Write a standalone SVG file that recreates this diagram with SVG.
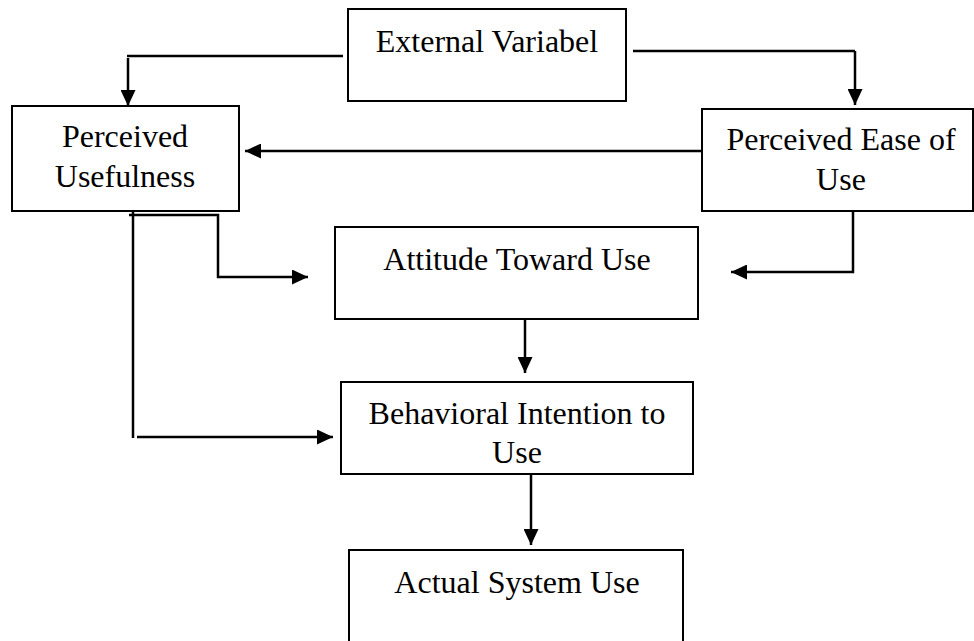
<svg xmlns="http://www.w3.org/2000/svg" width="974" height="641" viewBox="0 0 974 641">
<defs>
<marker id="ah" markerUnits="userSpaceOnUse" markerWidth="17" markerHeight="15" viewBox="0 0 17 15" refX="16" refY="7.5" orient="auto">
<path d="M0,0 L16,7.5 L0,15 Z" fill="#000"/>
</marker>
</defs>
<style>
.box{fill:#fff;stroke:#000;stroke-width:2}
.t{font-family:"Liberation Serif","Times New Roman",serif;font-size:32px;fill:#000;text-anchor:middle}
.c{fill:none;stroke:#000;stroke-width:2.5}
.a{marker-end:url(#ah)}
</style>
<rect width="974" height="641" fill="#fff"/>
<g id="connectors">
<polyline class="c" points="343,56 127,56"/>
<line class="c a" x1="128" y1="58" x2="128" y2="106"/>
<polyline class="c" points="633,51 855,51"/>
<line class="c a" x1="855" y1="51" x2="855" y2="105"/>
<line class="c a" x1="702" y1="151" x2="245" y2="151"/>
<polyline class="c a" points="129,215 218,215 218,277 308,277"/>
<polyline class="c" points="133,211 133,438"/>
<line class="c a" x1="137" y1="437" x2="333" y2="437"/>
<polyline class="c a" points="853,211 853,272 731,272"/>
<line class="c a" x1="525" y1="303" x2="525" y2="373"/>
<line class="c a" x1="531" y1="474" x2="531" y2="545"/>
</g>
<g id="external">
<rect class="box" x="348" y="9" width="278" height="92"/>
<text class="t" x="487" y="52">External Variabel</text>
</g>
<g id="pu">
<rect class="box" x="12" y="106" width="227" height="105"/>
<text class="t" x="125" y="147">Perceived</text>
<text class="t" x="125" y="187">Usefulness</text>
</g>
<g id="peu">
<rect class="box" x="702" y="109" width="271" height="102"/>
<text class="t" x="841" y="150">Perceived Ease of</text>
<text class="t" x="841" y="190">Use</text>
</g>
<g id="attitude">
<rect class="box" x="335" y="227" width="363" height="92"/>
<text class="t" x="517" y="270">Attitude Toward Use</text>
</g>
<g id="bi">
<rect class="box" x="341" y="382" width="352" height="92"/>
<text class="t" x="517" y="424">Behavioral Intention to</text>
<text class="t" x="517" y="463">Use</text>
</g>
<g id="actual">
<rect class="box" x="349" y="550" width="334" height="110"/>
<text class="t" x="517" y="593">Actual System Use</text>
</g>
</svg>
